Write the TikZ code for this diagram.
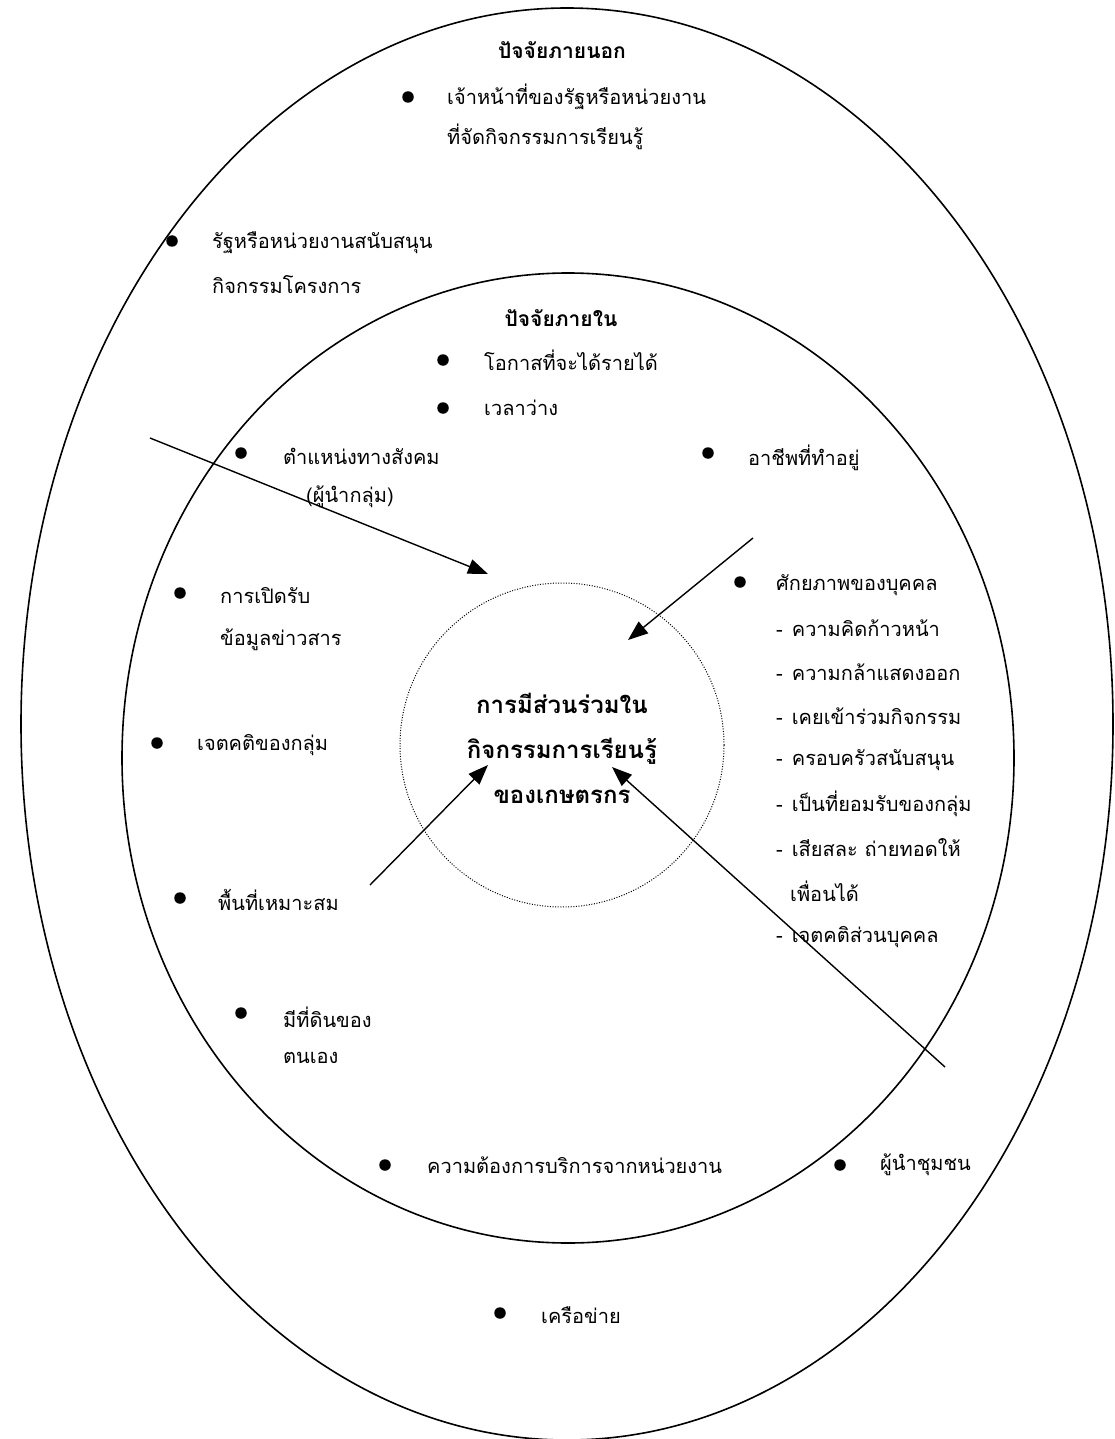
\documentclass[tikz,border=0pt]{standalone}
\usepackage{fontspec}
\usetikzlibrary{arrows.meta}
\newfontfamily\thaifont[Script=Thai]{Loma}
\tikzset{
  txt/.style={anchor=west, inner sep=0pt, font=\thaifont\fontsize{20}{24}\selectfont},
  ttl/.style={anchor=center, inner sep=0pt, font=\thaifont\bfseries\fontsize{21}{25}\selectfont},
  ctr/.style={anchor=center, inner sep=0pt, align=center, font=\thaifont\bfseries\fontsize{24}{45}\selectfont},
  bul/.style={circle, fill=black, inner sep=0pt, minimum size=11.5pt},
  ring/.style={line width=1.6pt},
  arr/.style={line width=1.4pt, -{Triangle[length=20pt,width=15pt]}}
}
\begin{document}
\begin{tikzpicture}[x=1pt,y=-1pt]
\useasboundingbox (0,0) rectangle (1115,1439);
% ellipses
\draw[ring] (567,724) ellipse [x radius=546, y radius=716];
\draw[ring] (568,758) ellipse [x radius=446, y radius=485];
\node[circle, draw, dash pattern=on 1pt off 1.6pt, line width=1pt, minimum size=324pt, inner sep=0pt] (core) at (562,745) {};
% centre text
\node[ctr] (ctext) at (562,748) {การมีส่วนร่วมใน\\กิจกรรมการเรียนรู้\\ของเกษตรกร};
% titles
\node[ttl] (tout) at (562,50) {ปัจจัยภายนอก};
\node[ttl] (tin) at (561,318) {ปัจจัยภายใน};
% outer items
\node[bul] (b1) at (408,97) {};
\node[txt] (t1a) at (447,97) {เจ้าหน้าที่ของรัฐหรือหน่วยงาน};
\node[txt] (t1b) at (447,137) {ที่จัดกิจกรรมการเรียนรู้};
\node[bul] (b2) at (172,241) {};
\node[txt] (t2a) at (212,243) {รัฐหรือหน่วยงานสนับสนุน};
\node[txt] (t2b) at (212,285) {กิจกรรมโครงการ};
\node[bul] (b3) at (385,1165) {};
\node[txt] (t3) at (427,1165) {ความต้องการบริการจากหน่วยงาน};
\node[bul] (b4) at (840,1165) {};
\node[txt] (t4) at (880,1165) {ผู้นำชุมชน};
\node[bul] (b5) at (500,1313) {};
\node[txt] (t5) at (541,1315) {เครือข่าย};
% inner items
\node[bul] (b6) at (443,360) {};
\node[txt] (t6) at (484,360) {โอกาสที่จะได้รายได้};
\node[bul] (b7) at (443,408) {};
\node[txt] (t7) at (484,408) {เวลาว่าง};
\node[bul] (b8) at (241,453) {};
\node[txt] (t8a) at (283,456) {ตำแหน่งทางสังคม};
\node[txt] (t8b) at (306,497) {(ผู้นำกลุ่ม)};
\node[bul] (b9) at (708,453) {};
\node[txt] (t9) at (748,458) {อาชีพที่ทำอยู่};
\node[bul] (b10) at (180,593) {};
\node[txt] (t10a) at (220,596) {การเปิดรับ};
\node[txt] (t10b) at (220,640) {ข้อมูลข่าวสาร};
\node[bul] (b11) at (157,743) {};
\node[txt] (t11) at (197,745) {เจตคติของกลุ่ม};
\node[bul] (b12) at (180,898) {};
\node[txt] (t12) at (218,900) {พื้นที่เหมาะสม};
\node[bul] (b13) at (241,1013) {};
\node[txt] (t13a) at (283,1017) {มีที่ดินของ};
\node[txt] (t13b) at (283,1058) {ตนเอง};
\node[bul] (b14) at (740,582) {};
\node[txt] (t14) at (776,585) {ศักยภาพของบุคคล};
\node[txt] (s1) at (776,628) {-\hspace{9pt}ความคิดก้าวหน้า};
\node[txt] (s2) at (776,672) {-\hspace{9pt}ความกล้าแสดงออก};
\node[txt] (s3) at (776,716) {-\hspace{9pt}เคยเข้าร่วมกิจกรรม};
\node[txt] (s4) at (776,760) {-\hspace{9pt}ครอบครัวสนับสนุน};
\node[txt] (s5) at (776,804) {-\hspace{9pt}เป็นที่ยอมรับของกลุ่ม};
\node[txt] (s6) at (776,848) {-\hspace{9pt}เสียสละ ถ่ายทอดให้};
\node[txt] (s6b) at (790,891) {เพื่อนได้};
\node[txt] (s7) at (776,937) {-\hspace{9pt}เจตคติส่วนบุคคล};
% arrows
\coordinate (a1s) at (150,438);
\coordinate (a1e) at (488,574);
\coordinate (a2s) at (753,538);
\coordinate (a2e) at (628,640);
\coordinate (a3s) at (370,885);
\coordinate (a3e) at (488,765);
\coordinate (a4s) at (945,1067);
\coordinate (a4e) at (612,767);
\draw[arr] (a1s) -- (a1e);
\draw[arr] (a2s) -- (a2e);
\draw[arr] (a3s) -- (a3e);
\draw[arr] (a4s) -- (a4e);
\end{tikzpicture}
\end{document}
